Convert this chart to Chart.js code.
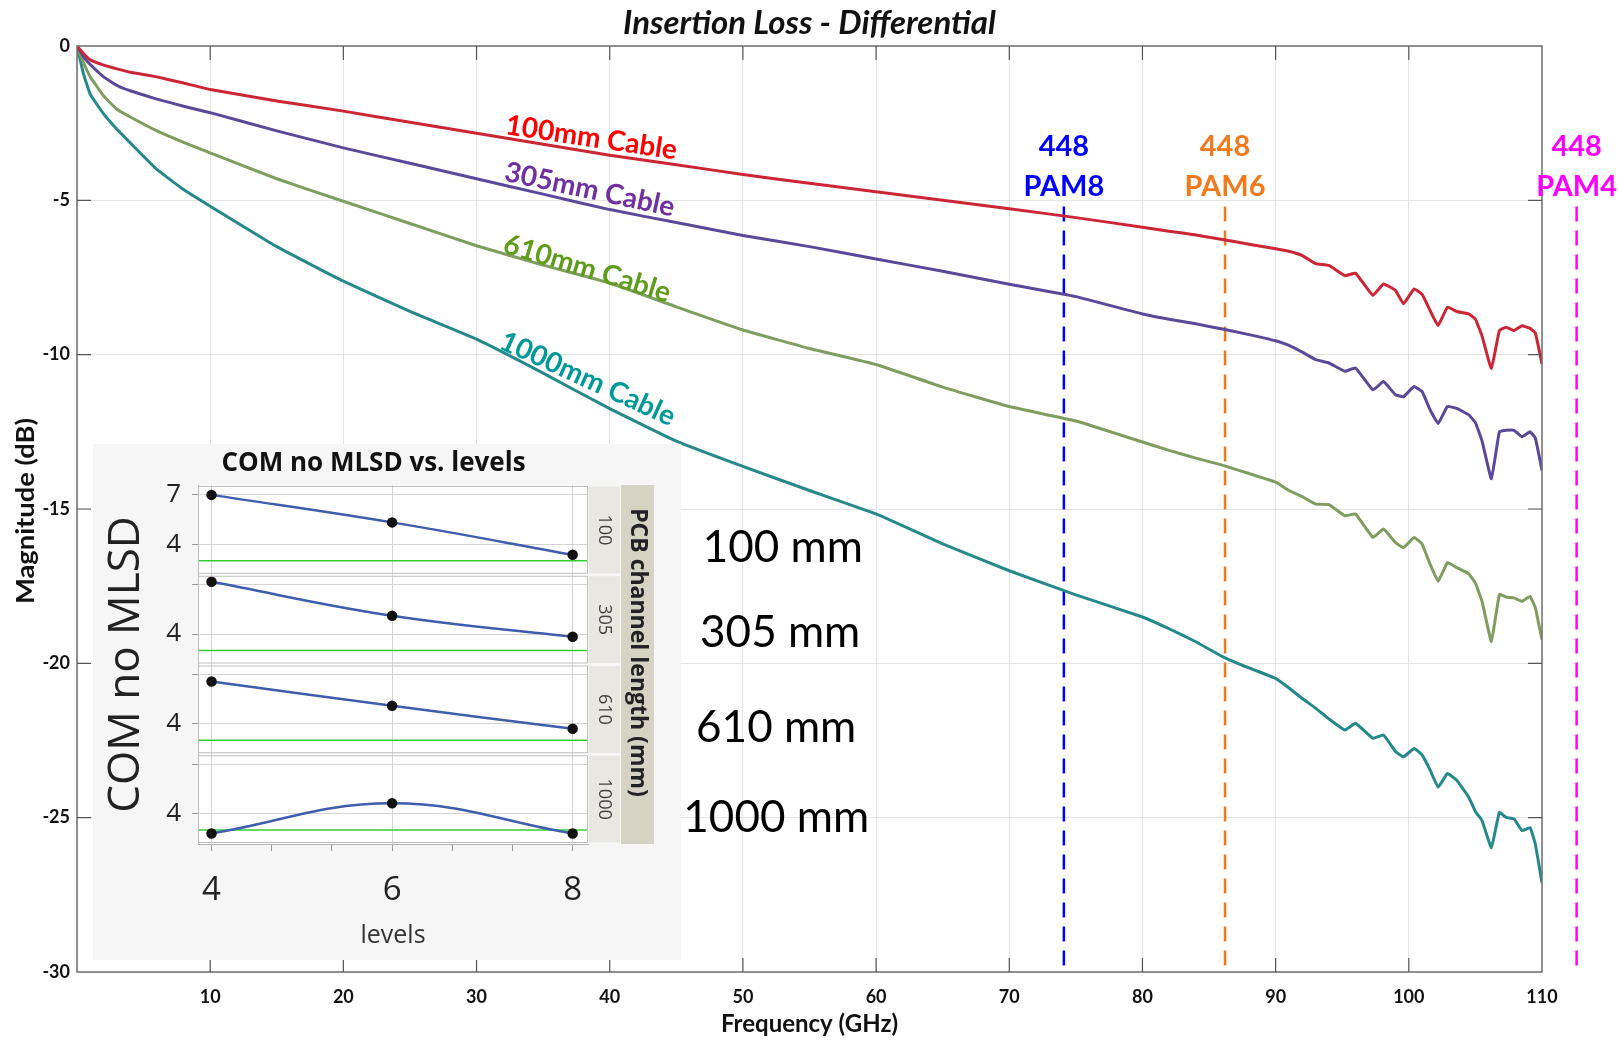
<!DOCTYPE html>
<html>
<head>
<meta charset="utf-8">
<script src="https://cdn.jsdelivr.net/npm/chart.js@4.4.1/dist/chart.umd.min.js"></script>
<style>
  html, body { margin: 0; padding: 0; background: #fff; }
  #wrap { position: relative; width: 1618px; height: 1041px; overflow: hidden; }
  #mainChart { position: absolute; left: 0; top: 0; }
  #insetBox { position: absolute; left: 93px; top: 444px; width: 588px; height: 516px; background: #f6f6f6; }
  #insetChart { position: absolute; left: 0; top: 0; }
</style>
</head>
<body>
<div id="wrap">
  <canvas id="mainChart" width="1618" height="1041"></canvas>
  <div id="insetBox"><canvas id="insetChart" width="561" height="516"></canvas></div>
</div>
<script>
// frequency grid (GHz) and insertion loss (dB)
const freqGHz = [0, 0.5, 1, 2, 3, 4, 6, 8, 10, 15, 20, 25, 30, 35, 40, 45, 50, 55, 60, 65, 70, 75, 80,
  82, 84, 86, 88, 90, 91, 92, 93, 94, 95.2, 96, 97.3, 98.1, 99, 99.6, 100.4, 101, 101.6, 102.2, 102.9,
  103.6, 104.5, 105, 105.5, 106.2, 106.8, 107.3, 107.9, 108.5, 109.1, 109.5, 110];

const loss100mm = [0, -0.25, -0.45, -0.62, -0.74, -0.85, -1.0, -1.2, -1.41, -1.78, -2.11, -2.47, -2.83, -3.18,
  -3.54, -3.85, -4.16, -4.45, -4.72, -5.0, -5.27, -5.56, -5.87, -6.0, -6.12, -6.27, -6.42, -6.57, -6.65,
  -6.79, -7.05, -7.11, -7.44, -7.36, -8.08, -7.71, -7.92, -8.35, -7.87, -8.05, -8.57, -9.06, -8.46, -8.6,
  -8.68, -8.85, -9.4, -10.45, -9.22, -9.11, -9.22, -9.06, -9.15, -9.3, -10.3];

const loss305mm = [0, -0.35, -0.6, -1.0, -1.28, -1.45, -1.72, -1.95, -2.16, -2.75, -3.3, -3.8, -4.3, -4.8,
  -5.3, -5.72, -6.14, -6.5, -6.9, -7.3, -7.72, -8.12, -8.68, -8.85, -9.0, -9.17, -9.35, -9.55, -9.7,
  -9.92, -10.16, -10.27, -10.54, -10.43, -11.14, -10.87, -11.3, -11.36, -11.03, -11.2, -11.79, -12.23,
  -11.68, -11.74, -11.95, -12.2, -12.8, -14.02, -12.5, -12.45, -12.45, -12.66, -12.5, -12.7, -13.75];

const loss610mm = [0, -0.55, -1.0, -1.62, -2.05, -2.3, -2.75, -3.12, -3.46, -4.3, -5.03, -5.75, -6.47, -7.1,
  -7.68, -8.45, -9.2, -9.8, -10.32, -11.05, -11.68, -12.15, -12.83, -13.1, -13.35, -13.58, -13.85, -14.13,
  -14.4, -14.6, -14.84, -14.86, -15.22, -15.16, -15.92, -15.65, -16.09, -16.25, -15.92, -16.14, -16.79,
  -17.34, -16.74, -16.9, -17.1, -17.4, -18.0, -19.29, -17.77, -17.85, -17.88, -17.99, -17.83, -18.2, -19.24];

const loss1000mm = [0, -0.92, -1.57, -2.2, -2.7, -3.14, -4.0, -4.65, -5.19, -6.5, -7.62, -8.6, -9.5, -10.6,
  -11.75, -12.8, -13.62, -14.4, -15.16, -16.13, -17.0, -17.78, -18.5, -18.88, -19.3, -19.78, -20.15,
  -20.49, -20.8, -21.14, -21.45, -21.8, -22.16, -21.94, -22.43, -22.32, -22.86, -23.03, -22.76, -22.97,
  -23.46, -24.01, -23.57, -23.79, -24.34, -24.8, -25.1, -25.97, -24.83, -24.99, -25.04, -25.42, -25.32,
  -25.86, -27.11];

const cableNames = ['100mm Cable', '305mm Cable', '610mm Cable', '1000mm Cable'];

// Nyquist markers
const markerFreqs = [74.1, 86.2, 112.6];
const markerNames = ['PAM8', 'PAM6', 'PAM4'];
const markerRate = '448';
const markerTopDb = -5.2;

// inset: COM without MLSD vs. number of levels
const levels = [4, 6, 8];
const levelTicks = [4, 4.667, 5.333, 6, 6.667, 7.333, 8];
const pcbLengths = ['100', '305', '610', '1000'];
const com100 = [7.0, 5.33, 3.36];
const com305 = [7.17, 5.11, 3.83];
const com610 = [6.57, 5.09, 3.70];
const com1000 = [2.79, 4.62, 2.79];
const comLimit = 3;

// ---- styling / placement ----
const curveColors = ['#cc2535', '#5b4899', '#7f9d5f', '#25898b'];
const labelColors = ['#ff0000', '#7030a0', '#5e9c1a', '#00999a'];
const markerColors = ['#0000ff', '#f07a1c', '#ff00ff'];
// where the cable names sit (GHz, dB, rotation deg)
const cableLabelPos = [
  { f: 32.1, db: -2.85, rot: 8.5 },
  { f: 32.0, db: -4.36, rot: 12 },
  { f: 31.9, db: -6.67, rot: 17 },
  { f: 31.6, db: -9.78, rot: 24.5 }
];
// where the "xxx mm" captions sit next to the inset (GHz, dB)
const lengthCaptionPos = [
  { f: 53.0, db: -16.25 },
  { f: 52.8, db: -19.0 },
  { f: 52.5, db: -22.08 },
  { f: 52.5, db: -25.0 }
];

Chart.defaults.font.family = 'Lato';

const lossSeries = [loss100mm, loss305mm, loss610mm, loss1000mm];
const mainSets = lossSeries.map((vals, i) => ({
  label: cableNames[i],
  data: freqGHz.map((f, k) => ({ x: f, y: vals[k] })),
  borderColor: curveColors[i],
  borderWidth: 3,
  pointRadius: 0,
  tension: 0.1,
  fill: false
}));
markerFreqs.forEach((f, i) => {
  mainSets.push({
    label: markerRate + ' ' + markerNames[i],
    data: [{ x: f, y: markerTopDb }, { x: f, y: -30 }],
    borderColor: markerColors[i],
    borderWidth: 2.5,
    borderDash: [15, 9],
    pointRadius: 0,
    clip: false
  });
});

// frame, inner ticks and text annotations for the main plot
const mainDecor = {
  id: 'mainDecor',
  afterDatasetsDraw(chart) {
    const { ctx, chartArea: a, scales: { x, y } } = chart;
    ctx.save();
    ctx.strokeStyle = '#6f6f6f';
    ctx.lineWidth = 1.5;
    ctx.strokeRect(a.left, a.top, a.right - a.left, a.bottom - a.top);

    ctx.strokeStyle = '#555';
    ctx.lineWidth = 1.2;
    ctx.beginPath();
    x.ticks.forEach(t => {
      if (t.value <= 0 || t.value >= 110) return;
      const px = x.getPixelForValue(t.value);
      ctx.moveTo(px, a.bottom); ctx.lineTo(px, a.bottom - 14);
      ctx.moveTo(px, a.top); ctx.lineTo(px, a.top + 14);
    });
    y.ticks.forEach(t => {
      if (t.value <= -30 || t.value >= 0) return;
      const py = y.getPixelForValue(t.value);
      ctx.moveTo(a.left, py); ctx.lineTo(a.left + 14, py);
      ctx.moveTo(a.right, py); ctx.lineTo(a.right - 14, py);
    });
    ctx.stroke();

    // title, centred over the plot area
    ctx.fillStyle = '#111';
    ctx.font = 'italic bold 33px Lato';
    ctx.textAlign = 'center';
    ctx.textBaseline = 'middle';
    ctx.fillText('Insertion Loss - Differential', (a.left + a.right) / 2, 23);

    // y axis title (the original is drawn stretched along its length)
    ctx.save();
    ctx.translate(26, (a.top + a.bottom) / 2 + 2);
    ctx.rotate(-Math.PI / 2);
    ctx.scale(1.14, 1);
    ctx.font = 'bold 24px Lato';
    ctx.fillText('Magnitude (dB)', 0, 0);
    ctx.restore();

    // cable names along the curves
    ctx.font = 'bold 28px Lato';
    ctx.textAlign = 'left';
    ctx.textBaseline = 'alphabetic';
    cableNames.forEach((name, i) => {
      const p = cableLabelPos[i];
      ctx.save();
      ctx.translate(x.getPixelForValue(p.f), y.getPixelForValue(p.db));
      ctx.rotate(p.rot * Math.PI / 180);
      ctx.fillStyle = labelColors[i];
      ctx.fillText(name, 0, 0);
      ctx.restore();
    });

    // marker captions
    ctx.font = 'bold 29px Lato';
    ctx.textAlign = 'center';
    ctx.textBaseline = 'middle';
    markerFreqs.forEach((f, i) => {
      const px = x.getPixelForValue(f);
      ctx.fillStyle = markerColors[i];
      ctx.fillText(markerRate, px, y.getPixelForValue(-3.25));
      ctx.fillText(markerNames[i], px, y.getPixelForValue(-4.55));
    });

    // channel length captions
    ctx.font = '44px Lato';
    ctx.fillStyle = '#000';
    pcbLengths.forEach((len, i) => {
      const p = lengthCaptionPos[i];
      ctx.fillText(len + ' mm', x.getPixelForValue(p.f), y.getPixelForValue(p.db));
    });
    ctx.restore();
  }
};

new Chart(document.getElementById('mainChart'), {
  type: 'line',
  data: { datasets: mainSets },
  options: {
    responsive: false,
    animation: false,
    layout: { padding: { left: 0, right: 76, top: 46, bottom: 0 } },
    plugins: {
      legend: { display: false },
      tooltip: { enabled: false },
      title: { display: false }
    },
    scales: {
      x: {
        type: 'linear', min: 0, max: 110,
        afterFit: s => { s.height = 69; },
        ticks: {
          stepSize: 10, padding: 14, color: '#111', maxRotation: 0, autoSkip: false,
          font: { size: 18, weight: 'bold' },
          callback: v => (v === 0 ? '' : v)
        },
        grid: { color: '#e4e4e4', drawTicks: false },
        border: { display: false },
        title: {
          display: true, text: 'Frequency (GHz)', color: '#111',
          font: { size: 24, weight: 'bold' }, padding: { top: 0, bottom: 2 }
        }
      },
      y: {
        type: 'linear', min: -30, max: 0,
        afterFit: s => { s.width = 77; },
        ticks: { stepSize: 5, padding: 7, color: '#111', font: { size: 18, weight: 'bold' } },
        grid: { color: '#e4e4e4', drawTicks: false },
        border: { display: false }
      }
    }
  },
  plugins: [mainDecor]
});

// ---------------- inset ----------------
const insetPanels = [
  { id: 'p1000', values: com1000, name: pcbLengths[3] },
  { id: 'p610', values: com610, name: pcbLengths[2] },
  { id: 'p305', values: com305, name: pcbLengths[1] },
  { id: 'p100', values: com100, name: pcbLengths[0] }
];

const insetScales = {
  x: {
    type: 'linear', min: 3.85, max: 8.17,
    afterBuildTicks: s => { s.ticks = levelTicks.map(v => ({ value: v })); },
    afterFit: s => { s.height = 116; },
    ticks: {
      padding: 20, color: '#222', font: { family: 'Open Sans', size: 33 },
      callback: v => (Number.isInteger(v) ? v : '')
    },
    grid: {
      color: c => (c.tick && Number.isInteger(c.tick.value) ? '#d4d4d4' : 'rgba(0,0,0,0)'),
      tickColor: '#999', tickLength: 7
    },
    border: { color: '#b4b4b4' },
    title: {
      display: true, text: 'levels', color: '#333',
      font: { family: 'Open Sans', size: 25 }, padding: { top: 0, bottom: 9 }
    }
  }
};
insetPanels.forEach(p => {
  insetScales[p.id] = {
    type: 'linear', position: 'left', stack: 'com', stackWeight: 1,
    min: 2.15, max: 7.6,
    afterBuildTicks: s => { s.ticks = [{ value: 4 }, { value: 7 }]; },
    afterFit: s => { s.width = 105; },
    ticks: {
      padding: 11, color: '#222', font: { family: 'Open Sans', size: 26 },
      callback: v => ((v === 7 && p.id !== 'p100') ? '' : v)
    },
    grid: { color: '#d4d4d4', tickColor: '#999', tickLength: 6 },
    border: { color: '#b4b4b4' }
  };
});

const insetSets = [];
insetPanels.forEach(p => {
  insetSets.push({
    label: p.name,
    data: levels.map((l, k) => ({ x: l, y: p.values[k] })),
    yAxisID: p.id,
    borderColor: '#3e5dac',
    borderWidth: 2.5,
    tension: 0.4,
    pointRadius: 4,
    pointBackgroundColor: '#111',
    pointBorderColor: '#111'
  });
});
insetPanels.forEach(p => {
  insetSets.push({
    label: p.name + ' limit',
    data: [{ x: 3.85, y: comLimit }, { x: 8.17, y: comLimit }],
    yAxisID: p.id,
    borderColor: '#33cc33',
    borderWidth: 1.6,
    pointRadius: 0
  });
});

const insetDecor = {
  id: 'insetDecor',
  beforeDraw(chart) {
    const { ctx, chartArea: a } = chart;
    ctx.save();
    ctx.fillStyle = '#fff';
    ctx.fillRect(a.left, a.top, a.right - a.left, a.bottom - a.top);
    ctx.restore();
  },
  afterDraw(chart) {
    const { ctx, chartArea: a } = chart;
    const cw = chart.width;
    ctx.save();
    // panel frames (double line between panels)
    ctx.strokeStyle = '#bdbdbd';
    ctx.lineWidth = 1;
    insetPanels.forEach(p => {
      const s = chart.scales[p.id];
      ctx.strokeRect(a.left + 0.5, s.top + 1.5, a.right - a.left - 1, s.bottom - s.top - 3);
    });
    // strips
    insetPanels.forEach(p => {
      const s = chart.scales[p.id];
      ctx.fillStyle = '#e8e7e1';
      ctx.fillRect(a.right + 1, s.top + 1.5, 31, s.bottom - s.top - 3);
      ctx.save();
      ctx.translate(a.right + 16.5, (s.top + s.bottom) / 2);
      ctx.rotate(Math.PI / 2);
      ctx.fillStyle = '#444';
      ctx.font = '18px "Open Sans"';
      ctx.textAlign = 'center';
      ctx.textBaseline = 'middle';
      ctx.fillText(p.name, 0, 0);
      ctx.restore();
    });
    ctx.fillStyle = '#d6d3c5';
    ctx.fillRect(a.right + 33, a.top, 33, a.bottom - a.top);
    ctx.save();
    ctx.translate(a.right + 49.5, (a.top + a.bottom) / 2 - 12);
    ctx.rotate(Math.PI / 2);
    ctx.fillStyle = '#222';
    ctx.font = 'bold 23px "Open Sans"';
    ctx.textAlign = 'center';
    ctx.textBaseline = 'middle';
    ctx.fillText('PCB channel length (mm)', 0, 0);
    ctx.restore();

    // y title
    ctx.save();
    ctx.translate(33, (a.top + a.bottom) / 2);
    ctx.rotate(-Math.PI / 2);
    ctx.fillStyle = '#222';
    ctx.font = '44px "Open Sans"';
    ctx.textAlign = 'center';
    ctx.textBaseline = 'middle';
    ctx.fillText('COM no MLSD', 0, 0);
    ctx.restore();

    // title
    ctx.fillStyle = '#111';
    ctx.font = 'bold 26px "Open Sans"';
    ctx.textAlign = 'center';
    ctx.textBaseline = 'middle';
    ctx.fillText('COM no MLSD vs. levels', cw / 2, 20);
    ctx.restore();
  }
};

new Chart(document.getElementById('insetChart'), {
  type: 'line',
  data: { datasets: insetSets },
  options: {
    responsive: false,
    animation: false,
    layout: { padding: { left: 0, right: 66, top: 41, bottom: 0 } },
    plugins: { legend: { display: false }, tooltip: { enabled: false }, title: { display: false } },
    scales: insetScales
  },
  plugins: [insetDecor]
});
</script>
</body>
</html>
